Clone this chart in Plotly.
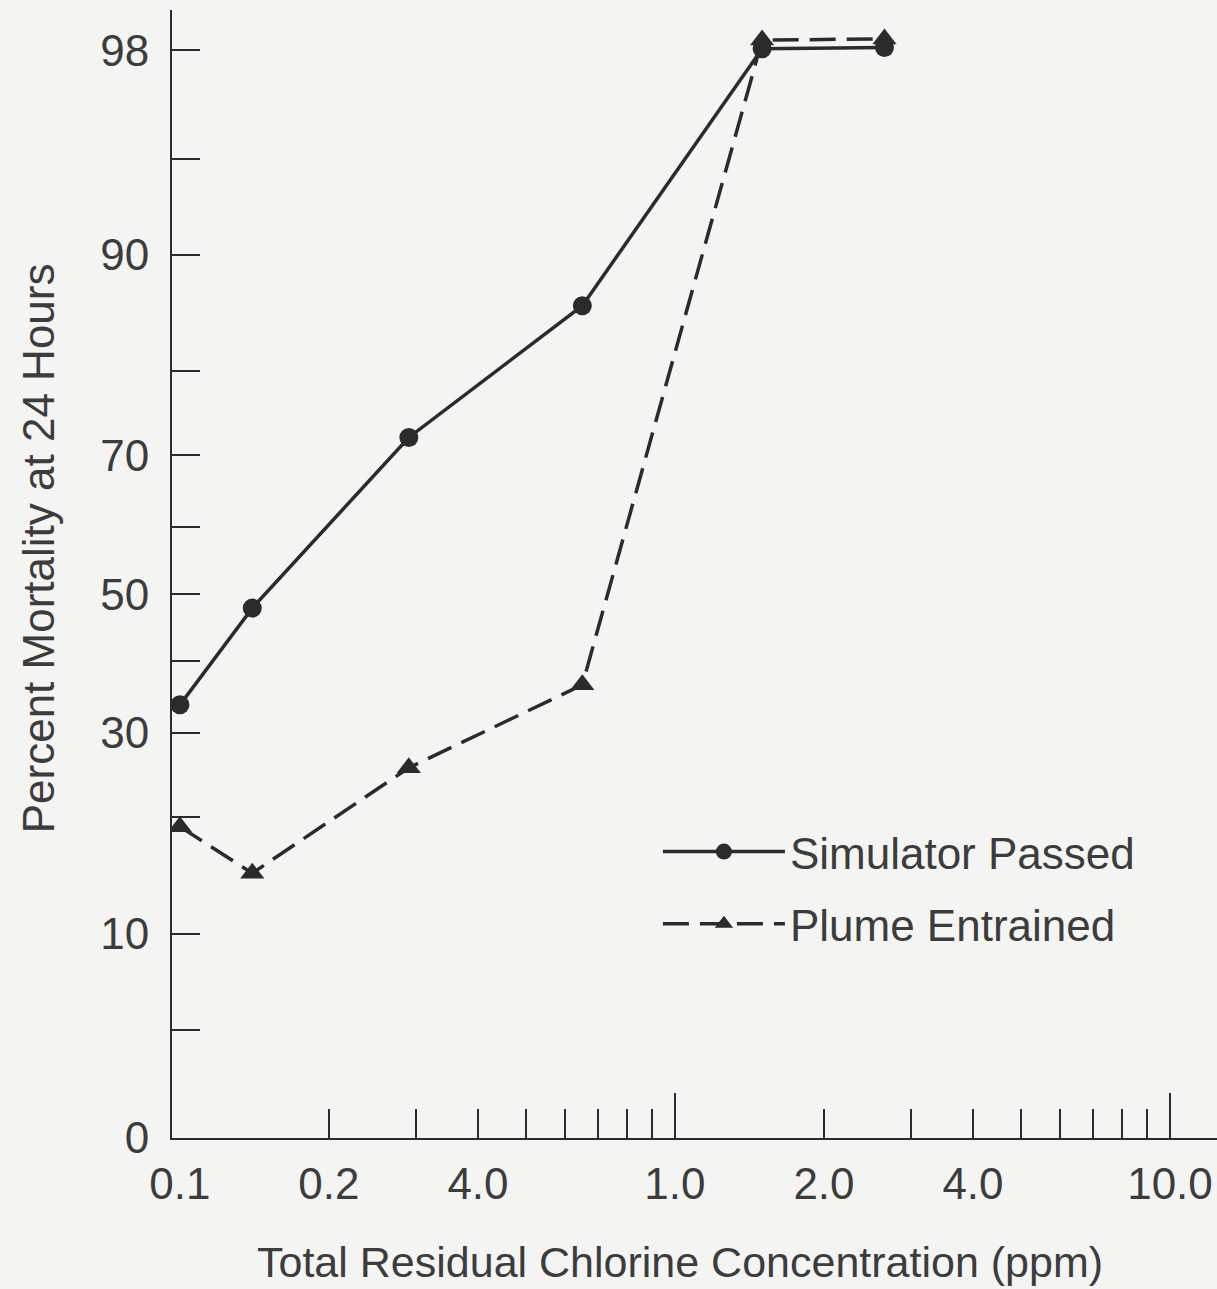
import plotly.graph_objects as go
from statistics import NormalDist

# ---- data ----
conc = [0.1, 0.14, 0.29, 0.65, 1.5, 2.65]
sim_passed = [33.8, 47.9, 72.3, 86.2, 98.03, 98.05]
plume_entrained = [19.0, 14.6, 25.6, 36.6, 98.18, 98.2]

y_tick_pct = [2, 10, 30, 50, 70, 90, 98]
y_tick_text = ["0", "10", "30", "50", "70", "90", "98"]
y_minor_pct = [5, 20, 40, 60, 80, 95]

x_tick_vals = [0.1, 0.2, 0.4, 1.0, 2.0, 4.0, 10.0]
x_tick_text = ["0.1", "0.2", "4.0", "1.0", "2.0", "4.0", "10.0"]
x_minor_vals = [0.2, 0.3, 0.4, 0.5, 0.6, 0.7, 0.8, 0.9, 2, 3, 4, 5, 6, 7, 8, 9]
x_long_vals = [1.0, 10.0]

x_title = "Total Residual Chlorine Concentration (ppm)"
y_title = "Percent Mortality at 24 Hours"

# probability (probit) scale
nd = NormalDist()
def probit(p):
    return nd.inv_cdf(p / 100.0)

INK = "#2b2b2b"
TXT = "#3c3c3c"
BG = "#f4f4f2"
FONT = "Liberation Sans, Arial, sans-serif"

fig = go.Figure()
fig.add_trace(go.Scatter(
    x=conc, y=[probit(v) for v in sim_passed], name="Simulator Passed",
    mode="lines+markers", legendgroup="a",
    line=dict(color=INK, width=3.5),
    marker=dict(symbol="circle", size=19, color=INK),
))
fig.add_trace(go.Scatter(
    x=conc, y=[probit(v) for v in plume_entrained], name="Plume Entrained",
    mode="lines+markers", legendgroup="b",
    line=dict(color=INK, width=3.5, dash="26px,11px"),
    marker=dict(symbol="triangle-up", size=21, color=INK),
))

xr = [-1.016, 1.095]
yr = [probit(2), probit(2) + (1138 - 10) / 264.8]

fig.update_layout(
    width=1217, height=1289,
    margin=dict(l=172, r=0, t=10, b=151),
    paper_bgcolor=BG, plot_bgcolor=BG,
    font=dict(family=FONT, color=TXT, size=44),
    showlegend=True,
    legend=dict(
        x=0.465, y=0.285, xanchor="left", yanchor="top",
        bgcolor="rgba(0,0,0,0)", itemwidth=122,
        font=dict(family=FONT, size=44, color=TXT),
        tracegroupgap=12,
    ),
    xaxis=dict(
        type="log", range=xr,
        showline=True, linecolor=INK, linewidth=2,
        showgrid=False, zeroline=False,
        tickmode="array", tickvals=x_tick_vals, ticktext=x_tick_text,
        ticks="", ticklen=0,
        ticklabelstandoff=6,
        tickfont=dict(family=FONT, size=44, color=TXT),
        minor=dict(tickmode="array", tickvals=x_minor_vals, ticks="inside",
                   ticklen=29, tickwidth=2, tickcolor=INK, showgrid=False),
    ),
    xaxis2=dict(
        type="log", range=xr, overlaying="x", side="bottom",
        showline=False, showgrid=False, zeroline=False,
        tickmode="array", tickvals=x_long_vals, showticklabels=False,
        ticks="inside", ticklen=45, tickwidth=2, tickcolor=INK,
    ),
    yaxis=dict(
        range=yr,
        showline=True, linecolor=INK, linewidth=2,
        showgrid=False, zeroline=False,
        tickmode="array", tickvals=[probit(v) for v in y_tick_pct], ticktext=y_tick_text,
        ticks="inside", ticklen=28, tickwidth=2, tickcolor=INK,
        ticklabelstandoff=12,
        tickfont=dict(family=FONT, size=44, color=TXT),
        minor=dict(tickmode="array", tickvals=[probit(v) for v in y_minor_pct],
                   ticks="inside", ticklen=28, tickwidth=2, tickcolor=INK, showgrid=False),
    ),
    annotations=[
        dict(text=x_title, xref="paper", yref="paper", x=0.486, y=-0.11,
             xanchor="center", yanchor="middle", showarrow=False,
             font=dict(family=FONT, size=43, color=TXT)),
        dict(text=y_title, xref="paper", yref="paper", x=-0.128, y=0.523,
             xanchor="center", yanchor="middle", showarrow=False, textangle=-90,
             font=dict(family=FONT, size=44, color=TXT)),
    ],
)
# invisible helper trace to activate the overlay axis with the long ticks
fig.add_trace(go.Scatter(x=[conc[0]], y=[probit(sim_passed[0])], xaxis="x2",
                         mode="markers", marker=dict(opacity=0), showlegend=False,
                         hoverinfo="skip"))

fig.write_html("out.html")
